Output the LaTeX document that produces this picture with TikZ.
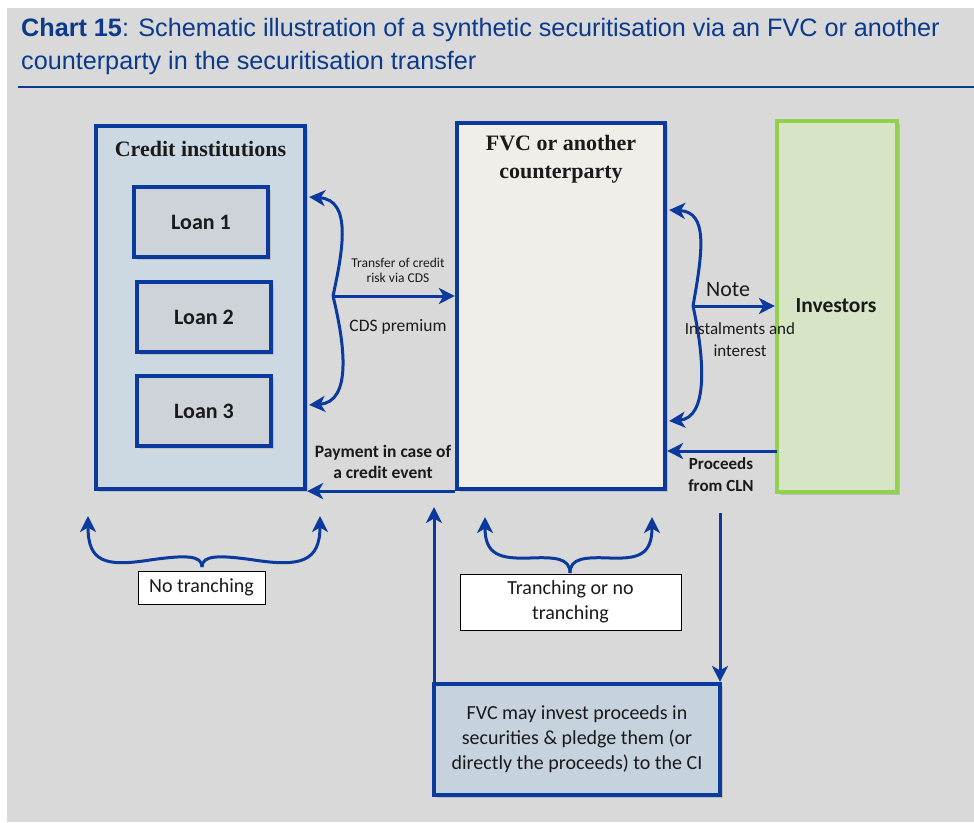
\documentclass[tikz,border=0pt]{standalone}
\usepackage{fontspec}
\setmainfont{Carlito}
\newfontfamily\titlefont{Liberation Sans}
\newfontfamily\seriffont{Liberation Serif}
\usetikzlibrary{arrows.meta,shadows}
\definecolor{bg}{HTML}{D9D9D9}
\definecolor{navy}{HTML}{0A3A9E}
\definecolor{titleblue}{HTML}{0B3A8C}
\definecolor{cifill}{HTML}{CCD9E3}
\definecolor{loanfill}{HTML}{CDD3D8}
\definecolor{fvcfill}{HTML}{F1EDE9}
\definecolor{invfill}{HTML}{D7E4C6}
\definecolor{invline}{HTML}{92D050}
\definecolor{botfill}{HTML}{C6D2DE}
\definecolor{txt}{HTML}{1A1A1A}
\definecolor{shadowc}{HTML}{BDBDBD}
\tikzset{
  box/.style={draw=navy, line width=4.2pt, rectangle, inner sep=0pt,
    drop shadow={shadow xshift=3pt, shadow yshift=-3pt, fill=shadowc, opacity=1}},
  loan/.style={box, fill=loanfill, minimum width=134pt, minimum height=70pt,
    font=\fontsize{22}{24}\selectfont\bfseries, text=txt},
  whitebox/.style={draw=black, line width=0.8pt, fill=white, inner sep=0pt, align=center,
    font=\fontsize{20}{25}\selectfont, text=txt},
  arr/.style={draw=navy, line width=3pt, -{Stealth[length=16pt,width=16pt,inset=4.5pt]}},
  lbl/.style={text=txt, align=center, inner sep=0pt},
}
\begin{document}
\begin{tikzpicture}[x=1pt,y=-1pt]
\useasboundingbox (0,0) rectangle (974,822);
\fill[bg] (7,8) rectangle (974,822);
% title
\node[anchor=north west, align=left, inner sep=0pt, text=titleblue,
  font=\titlefont\fontsize{25.2}{33}\selectfont] (title) at (21,18)
  {\textbf{Chart 15}: Schematic illustration of a synthetic securitisation via an FVC or another\\counterparty in the securitisation transfer};
\coordinate (r1) at (18,87);
\coordinate (r2) at (974,87);
\draw[titleblue, line width=2.5pt] (r1) -- (r2);

% main boxes
\node[box, fill=cifill, minimum width=209pt, minimum height=363pt] (ci) at (200.5,307.5) {};
\node[lbl, font=\seriffont\fontsize{22}{25}\selectfont\bfseries] (citxt) at (200.5,149) {Credit institutions};
\node[loan] (l1) at (201,222) {Loan 1};
\node[loan] (l2) at (204,317) {Loan 2};
\node[loan] (l3) at (204,411) {Loan 3};

\node[box, fill=fvcfill, minimum width=208pt, minimum height=366pt] (fvc) at (561,306) {};
\node[lbl, font=\seriffont\fontsize{22}{28}\selectfont\bfseries] (fvctxt) at (561,159) {FVC or another\\counterparty};

\node[box, draw=invline, fill=invfill, minimum width=120pt, minimum height=371pt] (inv) at (837,306.5) {};
\node[lbl, font=\fontsize{21.5}{25}\selectfont\bfseries] (invtxt) at (836,306) {Investors};

\node[box, fill=botfill, minimum width=286pt, minimum height=111pt, align=center,
  font=\fontsize{20}{25}\selectfont, text=txt] (bot) at (577,739.5)
  {FVC may invest proceeds in\\securities \& pledge them (or\\directly the proceeds) to the CI};

\node[whitebox, minimum width=127pt, minimum height=33pt] (nt) at (201.5,587.5) {No tranching};
\node[whitebox, minimum width=221pt, minimum height=56pt] (tnt) at (570.5,602) {Tranching or no\\tranching};

% left brace arrows (CDS)
\coordinate (lbm) at (333,296);
\draw[arr] (lbm) .. controls (343,250) and (352,200) .. ([xshift=2pt]ci.east |- {(0,197)});
\draw[arr] (lbm) .. controls (345,345) and (352,402) .. ([xshift=2pt]ci.east |- {(0,405)});
\draw[arr] (lbm) -- (lbm -| fvc.west);
\node[lbl, font=\fontsize{13.5}{15}\selectfont] (tcr) at (398,270) {Transfer of credit\\risk via CDS};
\node[lbl, font=\fontsize{17.5}{20}\selectfont] (cdsp) at (398,327) {CDS premium};

% payment
\draw[arr] (fvc.south west) -- (ci.south east);
\node[lbl, font=\fontsize{17.5}{21}\selectfont\bfseries] (pay) at (383,462) {Payment in case of\\a credit event};

% right brace arrows (Note)
\coordinate (rbm) at (693,306);
\draw[arr] (rbm) .. controls (703,250) and (708,212) .. ([xshift=2pt]fvc.east |- {(0,210)});
\draw[arr] (rbm) .. controls (705,360) and (708,418) .. ([xshift=2pt]fvc.east |- {(0,421)});
\draw[arr] (rbm) -- (rbm -| inv.west);
\node[lbl, font=\fontsize{22}{24}\selectfont] (note) at (728,290) {Note};
\node[lbl, font=\fontsize{17}{22}\selectfont] (inst) at (740,340) {Instalments and\\interest};

% proceeds
\coordinate (pc) at (777,451);
\draw[arr] (pc) -- (pc -| fvc.east);
\node[lbl, font=\fontsize{17}{22}\selectfont\bfseries] (proc) at (721,475) {Proceeds\\from CLN};

% bottom braces
\coordinate (nbm) at (202,567);
\coordinate (nbl) at (88,516);
\coordinate (nbr) at (320,516);
\draw[arr] (nbm) .. controls (202,555) and (185,555) .. (150,560) .. controls (105,567) and (88,562) .. (nbl);
\draw[arr] (nbm) .. controls (202,555) and (219,555) .. (254,560) .. controls (300,567) and (320,562) .. (nbr);

\coordinate (tbm) at (570,573);
\coordinate (tbl) at (485,517);
\coordinate (tbr) at (652,517);
\draw[arr] (tbm) .. controls (570,558) and (555,557) .. (530,558) .. controls (500,559) and (485,555) .. (tbl);
\draw[arr] (tbm) .. controls (570,558) and (585,557) .. (610,558) .. controls (638,559) and (652,555) .. (tbr);

% vertical arrows
\coordinate (up) at (434,507);
\draw[arr] (up |- bot.north) -- (up);
\coordinate (dn) at (720,513);
\draw[arr] (dn) -- (dn |- bot.north);
\end{tikzpicture}
\end{document}
